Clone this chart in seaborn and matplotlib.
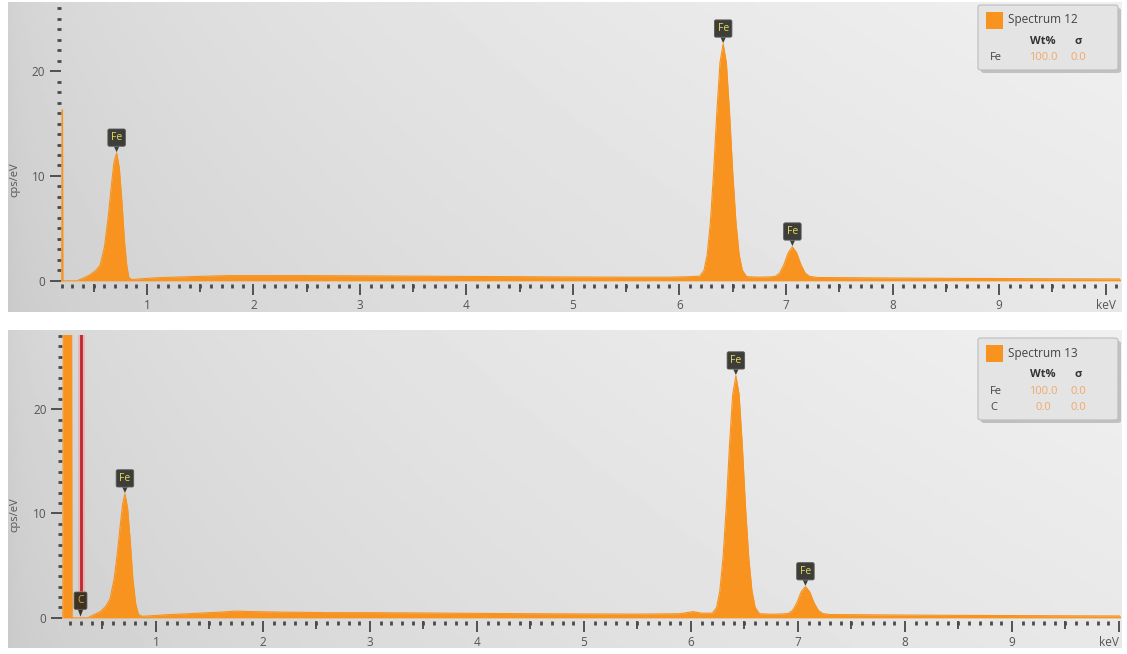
import numpy as np
import matplotlib
matplotlib.use('Agg')
import matplotlib.pyplot as plt
from matplotlib.patches import Rectangle, FancyBboxPatch
from matplotlib.ticker import FixedLocator, MultipleLocator
import seaborn as sns

# --- spectrum 12 (top panel) ---
energy_12 = [0.19, 0.20, 0.203, 0.207, 0.21, 0.34, 0.40, 0.46, 0.52, 0.56, 0.60, 0.635,
             0.665, 0.69, 0.715, 0.74, 0.765, 0.79, 0.81, 0.83, 0.86, 0.95, 1.1, 1.4,
             1.75, 2.0, 2.5, 3.0, 3.5, 4.0, 4.5, 5.0, 5.5, 5.9, 6.1,
             6.19, 6.23, 6.26, 6.29, 6.32, 6.35, 6.38, 6.41, 6.44, 6.47, 6.50, 6.53,
             6.56, 6.59, 6.63, 6.75, 6.85,
             6.90, 6.94, 6.98, 7.02, 7.06, 7.10, 7.14, 7.18, 7.22,
             7.3, 7.6, 8.0, 8.5, 9.0, 9.5, 10.2]
cps_12 = [0.0, 0.0, 16.3, 16.3, 0.0, 0.0, 0.25, 0.55, 1.0, 1.5, 3.2, 6.0,
          9.0, 11.3, 12.2, 10.8, 7.5, 3.6, 1.5, 0.3, 0.12, 0.2, 0.3, 0.4,
          0.5, 0.5, 0.5, 0.48, 0.45, 0.42, 0.4, 0.37, 0.35, 0.35, 0.4,
          0.45, 1.0, 2.5, 5.6, 10.3, 16.0, 20.8, 22.6, 20.8, 16.0, 10.3, 5.6,
          2.5, 1.0, 0.4, 0.35, 0.38,
          0.43, 0.74, 1.54, 2.67, 3.25, 2.67, 1.54, 0.74, 0.43,
          0.32, 0.3, 0.27, 0.24, 0.22, 0.2, 0.18]

# --- spectrum 13 (bottom panel) ---
energy_13 = [0.12, 0.13, 0.135, 0.21, 0.215, 0.36, 0.42, 0.48, 0.53, 0.57, 0.61, 0.64,
             0.67, 0.69, 0.71, 0.735, 0.76, 0.785, 0.81, 0.835, 0.87, 0.95, 1.1, 1.4,
             1.6, 1.75, 1.9, 2.2, 2.6, 3.0, 3.5, 4.0, 4.5, 5.0, 5.5, 5.9, 6.02, 6.1,
             6.20, 6.24, 6.27, 6.30, 6.33, 6.36, 6.39, 6.42, 6.45, 6.48, 6.51, 6.54,
             6.57, 6.60, 6.64, 6.75, 6.86,
             6.91, 6.95, 6.99, 7.03, 7.07, 7.11, 7.15, 7.19, 7.23,
             7.3, 7.6, 8.0, 8.5, 9.0, 9.5, 10.1]
cps_13 = [0.0, 0.0, 40.0, 40.0, 0.0, 0.0, 0.3, 0.6, 1.1, 1.8, 3.8, 6.3,
          9.2, 11.0, 11.9, 10.5, 7.3, 3.6, 1.4, 0.35, 0.15, 0.2, 0.3, 0.45,
          0.55, 0.65, 0.6, 0.55, 0.5, 0.5, 0.47, 0.43, 0.4, 0.38, 0.36, 0.4, 0.6, 0.45,
          0.45, 1.0, 2.6, 5.8, 10.6, 16.5, 21.4, 23.2, 21.4, 16.5, 10.6, 5.8,
          2.6, 1.0, 0.4, 0.35, 0.38,
          0.42, 0.72, 1.45, 2.5, 3.0, 2.5, 1.45, 0.72, 0.42,
          0.32, 0.3, 0.27, 0.24, 0.22, 0.2, 0.18]

peaks_12 = [0.715, 6.41, 7.06]
peaks_13 = [0.71, 6.42, 7.07]
peak_names = ['Fe', 'Fe', 'Fe']
carbon_line = 0.295

x_ticks = [1, 2, 3, 4, 5, 6, 7, 8, 9, 10]
x_tick_labels = ['1', '2', '3', '4', '5', '6', '7', '8', '9', 'keV']
y_ticks = [0, 10, 20]

titles = ['Spectrum 12', 'Spectrum 13']
elements_12 = ['Fe']
wt_12 = ['100.0']
sigma_12 = ['0.0']
elements_13 = ['Fe', 'C']
wt_13 = ['100.0', '0.0']
sigma_13 = ['0.0', '0.0']

ORANGE = '#f7931e'
W, H = 1127, 654

sns.set_theme(style='white')
plt.rcParams['font.family'] = ['Open Sans', 'DejaVu Sans']


def fig_box(x0, y0, x1, y1):
    """pixel box (top-left origin) -> figure fraction rect"""
    return [x0 / W, 1 - y1 / H, (x1 - x0) / W, (y1 - y0) / H]


def fxy(x, y):
    return x / W, 1 - y / H


fig = plt.figure(figsize=(W / 100, H / 100), dpi=100)
fig.patch.set_facecolor('white')

# gray gradient panels behind the plots
gx = np.linspace(0, 1, 300)[None, :]
gy = np.linspace(1, 0, 150)[:, None]
grad = np.clip(0.79 + 0.12 * np.sqrt(gx) + 0.03 * gy, 0, 1)
for y0, y1 in [(2, 312), (330, 648)]:
    bg = fig.add_axes(fig_box(8, y0, 1122, y1), zorder=0)
    bg.imshow(grad, cmap='gray', vmin=0, vmax=1, aspect='auto',
              extent=[0, 1, 0, 1], interpolation='bilinear')
    bg.axis('off')


def draw_panel(ax, energy, cps, xlim, ylim, peaks):
    ax.patch.set_alpha(0)
    ax.fill_between(energy, cps, 0, color=ORANGE, lw=0)
    sns.lineplot(x=energy, y=cps, ax=ax, color=ORANGE, lw=0.8,
                 estimator=None, sort=False)
    ax.set_xlim(*xlim)
    ax.set_ylim(*ylim)
    for s in ax.spines.values():
        s.set_visible(False)
    ax.set_xlabel('')
    ax.set_ylabel('')

    ax.set_xticks(x_ticks)
    ax.set_xticklabels(x_tick_labels)
    ax.xaxis.set_minor_locator(FixedLocator(np.round(np.arange(0.2, 10.15, 0.1), 1)))
    ax.set_yticks(y_ticks)
    ax.yaxis.set_minor_locator(MultipleLocator(1))
    ax.tick_params(axis='both', which='major', bottom=True, left=True, length=8,
                   width=1.2, color='#3a3a3a', labelsize=8.5, labelcolor='#555555', pad=3)
    ax.tick_params(axis='both', which='minor', bottom=True, left=True, length=3,
                   width=2, color='#4a4a4a')

    # half-keV ticks a little longer
    sec = ax.secondary_xaxis('bottom')
    sec.set_xticks(np.arange(0.5, 10.0, 1.0))
    sec.tick_params(length=5.5, width=1.2, color='#3a3a3a', labelbottom=False)
    for s in sec.spines.values():
        s.set_visible(False)

    # element markers above the peaks
    for e, name in zip(peaks, peak_names):
        h = np.interp(e, energy, cps)
        ax.annotate(name, xy=(e, h), xytext=(0, 11), textcoords='offset points',
                    ha='center', va='center', fontsize=7.5, color='#e8dc5a',
                    bbox=dict(boxstyle='round,pad=0.3,rounding_size=0.15',
                              fc='#3d3d3a', ec='#5a5a55', lw=0.6),
                    arrowprops=dict(arrowstyle='wedge,tail_width=0.5,shrink_factor=0.5',
                                    fc='#3d3d3a', ec='none', shrinkA=0, shrinkB=0.5))


ax1 = fig.add_axes(fig_box(60.7, 5, 1120, 284), zorder=2)
draw_panel(ax1, energy_12, cps_12, (0.19, 10.136), (-0.3, 26.3), peaks_12)

ax2 = fig.add_axes(fig_box(61.8, 335, 1120, 621), zorder=2)
draw_panel(ax2, energy_13, cps_13, (0.12, 10.01), (-0.3, 27.1), peaks_13)
# the 10 keV tick sits on the right edge here, keep the unit label inside
ax2.get_xticklabels()[-1].set_horizontalalignment('right')

# carbon line with a soft glow
ax2.vlines(carbon_line, 2.6, 30, color='#f2a0a0', lw=5, alpha=0.6)
ax2.vlines(carbon_line, 2.6, 30, color='#c0262d', lw=2)
ax2.annotate('C', xy=(carbon_line, 0.05), xytext=(0, 12), textcoords='offset points',
             ha='center', va='center', fontsize=7.5, color='#e9a030',
             bbox=dict(boxstyle='round,pad=0.3,rounding_size=0.15',
                       fc='#3a3326', ec='#5a5040', lw=0.6),
             arrowprops=dict(arrowstyle='wedge,tail_width=0.5,shrink_factor=0.5',
                             fc='#3a3326', ec='none', shrinkA=0, shrinkB=0.5))

# y labels
for yc in [180, 515]:
    fig.text(*fxy(15, yc), 'cps/eV', rotation=90, ha='center', va='center',
             fontsize=8, color='#555555')


def draw_legend(y_top, title, elements, wts, sigmas):
    n = len(elements)
    y_bot = y_top + 48 + 17 * n
    shadow = FancyBboxPatch(fxy(981, y_bot + 3), 140 / W, (y_bot - y_top) / H,
                            boxstyle='round,pad=0,rounding_size=0.003',
                            transform=fig.transFigure, fc='#8c8c8c', ec='none',
                            alpha=0.45, zorder=5)
    box = FancyBboxPatch(fxy(978, y_bot), 140 / W, (y_bot - y_top) / H,
                         boxstyle='round,pad=0,rounding_size=0.003',
                         transform=fig.transFigure, fc='#e4e4e4', ec='#bcbcbc',
                         lw=0.8, zorder=6)
    fig.add_artist(shadow)
    fig.add_artist(box)
    fig.add_artist(Rectangle(fxy(986, y_top + 24), 17 / W, 17 / H,
                             transform=fig.transFigure, fc=ORANGE, ec='none', zorder=7))
    fig.text(*fxy(1008, y_top + 15), title, ha='left', va='center', fontsize=8.5,
             color='#444444', zorder=7)
    fig.text(*fxy(1043, y_top + 36), 'Wt%', ha='center', va='center', fontsize=8,
             fontweight='bold', color='#333333', zorder=7)
    fig.text(*fxy(1078, y_top + 36), 'σ', ha='center', va='center', fontsize=8,
             fontweight='bold', color='#333333', zorder=7)
    for i, (el, w, s) in enumerate(zip(elements, wts, sigmas)):
        yy = y_top + 53 + 17 * i
        fig.text(*fxy(990, yy), el, ha='left', va='center', fontsize=8,
                 color='#444444', zorder=7)
        fig.text(*fxy(1043, yy), w, ha='center', va='center', fontsize=8,
                 color='#f2a868', zorder=7)
        fig.text(*fxy(1078, yy), s, ha='center', va='center', fontsize=8,
                 color='#f2a868', zorder=7)


draw_legend(5, titles[0], elements_12, wt_12, sigma_12)
draw_legend(338, titles[1], elements_13, wt_13, sigma_13)

fig.savefig('out.png', dpi=100)
